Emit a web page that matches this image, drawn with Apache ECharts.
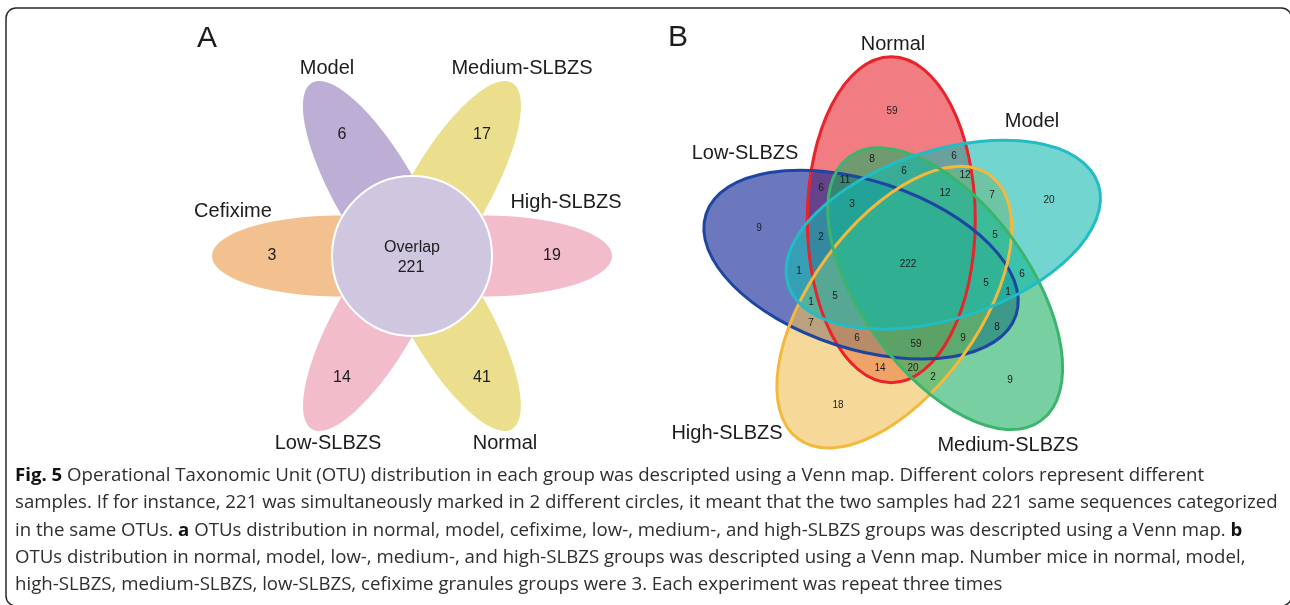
<!DOCTYPE html>
<html>
<head>
<meta charset="utf-8">
<script src="https://cdn.jsdelivr.net/npm/echarts@6/dist/echarts.min.js"></script>
<style>
  html, body { margin: 0; padding: 0; background: #ffffff; }
  #main { width: 1290px; height: 605px; }
</style>
</head>
<body>
<div id="main"></div>
<script>
// ---------- Panel A: flower diagram of six groups ----------
const petalGroupsA = ['Model', 'Medium-SLBZS', 'High-SLBZS', 'Normal', 'Low-SLBZS', 'Cefixime'];
const petalUniqueA = [6, 17, 19, 41, 14, 3];
const overlapLabelA = 'Overlap';
const overlapCountA = 221;

// ---------- Panel B: five-set Venn diagram ----------
const setsB = ['Normal', 'Low-SLBZS', 'High-SLBZS', 'Medium-SLBZS', 'Model'];
const regionCountsB = [59, 20, 9, 18, 9, 8, 6, 6, 12, 11, 6, 12, 7, 3, 2, 5,
                       222, 1, 6, 5, 1, 1, 5, 7, 6, 59, 9, 8, 14, 20, 2];

const panelLetters = ['A', 'B'];
const captionLines = [
  '{b|Fig. 5} Operational Taxonomic Unit (OTU) distribution in each group was descripted using a Venn map. Different colors represent different',
  'samples. If for instance, 221 was simultaneously marked in 2 different circles, it meant that the two samples had 221 same sequences categorized',
  'in the same OTUs. {b|a} OTUs distribution in normal, model, cefixime, low-, medium-, and high-SLBZS groups was descripted using a Venn map. {b|b}',
  'OTUs distribution in normal, model, low-, medium-, and high-SLBZS groups was descripted using a Venn map. Number mice in normal, model,',
  'high-SLBZS, medium-SLBZS, low-SLBZS, cefixime granules groups were 3. Each experiment was repeat three times'
];

// ---------- layout (plot units equal screen pixels, y grows downward) ----------
const flowerLayout = {
  cx: 412, cy: 256, coreR: 80,
  petalOffset: 72, petalMajor: 128, petalMinor: 40.5, countDist: 140,
  angles: [120, 60, 0, -60, 240, 180],
  fills: ['#bcaed4', '#ebdf8e', '#f2bccb', '#ebdf8e', '#f2bccb', '#f3c08f'],
  namePos: [[327, 68], [522, 68], [566, 202], [505, 443], [328, 443], [233, 211]],
  overlapPos: [[412, 248], [411, 268]]
};

const vennLayout = {
  cx: 907, cy: 263, offset: 46, major: 163, minor: 84,
  centerAngles: [110, 182, 254, 326, 38],
  tilt: -20,
  fills: ['rgba(232,37,47,0.6)', 'rgba(8,30,145,0.6)', 'rgba(240,190,83,0.6)',
          'rgba(30,175,100,0.6)', 'rgba(20,185,175,0.6)'],
  strokes: ['#e8232b', '#1f45a3', '#f4b93c', '#3bb56b', '#22bcc4'],
  namePos: [[893, 44], [745, 153], [727, 433], [1008, 445], [1032, 121]],
  countPos: [[892, 111], [1049, 200], [759, 228], [838, 405], [1010, 380],
             [872, 159], [954, 156], [904, 171], [965, 175], [845, 180],
             [821, 188], [945, 193], [992, 195], [852, 204], [821, 237],
             [995, 235], [908, 264], [799, 271], [1022, 274], [986, 283],
             [1008, 292], [811, 302], [835, 296], [811, 323], [857, 338],
             [916, 344], [963, 338], [997, 327], [880, 368], [913, 368],
             [933, 377]]
};

const letterPos = [[207, 39], [678, 38]];

const LABEL_FONT = '"Liberation Sans", Arial, sans-serif';
const CAPTION_FONT = '"Open Sans", sans-serif';
const INK = '#1c1c1c';

// ---------- build geometry ----------
const rad = d => d * Math.PI / 180;

// petals: [centerX, centerY, rx, ry, rotationDeg]
const petalData = flowerLayout.angles.map(a => [
  flowerLayout.cx + flowerLayout.petalOffset * Math.cos(rad(a)),
  flowerLayout.cy - flowerLayout.petalOffset * Math.sin(rad(a)),
  flowerLayout.petalMajor, flowerLayout.petalMinor, a
]);
const coreData = [[flowerLayout.cx, flowerLayout.cy, flowerLayout.coreR, flowerLayout.coreR, 0]];

const vennData = vennLayout.centerAngles.map(a => [
  vennLayout.cx + vennLayout.offset * Math.cos(rad(a)),
  vennLayout.cy - vennLayout.offset * Math.sin(rad(a)),
  vennLayout.major, vennLayout.minor, a + vennLayout.tilt
]);

// text items: position + text + font size
const textItems = [];
function addText(pos, text, size) {
  textItems.push({ value: [pos[0], pos[1]], text: String(text), size: size });
}
petalGroupsA.forEach((g, i) => addText(flowerLayout.namePos[i], g, 20));
petalUniqueA.forEach((v, i) => {
  const a = rad(flowerLayout.angles[i]);
  addText([flowerLayout.cx + flowerLayout.countDist * Math.cos(a),
           flowerLayout.cy - flowerLayout.countDist * Math.sin(a)], v, 16);
});
addText(flowerLayout.overlapPos[0], overlapLabelA, 16);
addText(flowerLayout.overlapPos[1], overlapCountA, 16);
setsB.forEach((g, i) => addText(vennLayout.namePos[i], g, 20));
regionCountsB.forEach((v, i) => addText(vennLayout.countPos[i], v, 10));
panelLetters.forEach((l, i) => addText(letterPos[i], l, 30));

// ---------- renderers ----------
function ellipseRenderer(styleFn) {
  return function (params, api) {
    const c = api.coord([api.value(0), api.value(1)]);
    const s = api.size([api.value(2), api.value(3)]);
    return {
      type: 'ellipse',
      x: c[0], y: c[1],
      rotation: rad(api.value(4)),
      shape: { cx: 0, cy: 0, rx: Math.abs(s[0]), ry: Math.abs(s[1]) },
      style: styleFn(params.dataIndex)
    };
  };
}

function textRenderer(params, api) {
  const p = api.coord([api.value(0), api.value(1)]);
  const t = textItems[params.dataIndex];
  return {
    type: 'text',
    x: p[0], y: p[1],
    style: {
      text: t.text,
      fill: INK,
      fontSize: t.size,
      fontFamily: LABEL_FONT,
      align: 'center',
      verticalAlign: 'middle'
    }
  };
}

const chart = echarts.init(document.getElementById('main'), null, { renderer: 'canvas' });

const captionGraphics = captionLines.map((line, i) => ({
  type: 'text',
  x: 15,
  y: 476 + i * 27.2,
  scaleX: 1.035,
  silent: true,
  style: {
    text: line,
    fill: '#2e2e2e',
    fontSize: 18,
    fontFamily: CAPTION_FONT,
    verticalAlign: 'middle',
    rich: {
      b: { fontWeight: 'bold', fontSize: 18, fontFamily: CAPTION_FONT, fill: '#111111' }
    }
  }
}));

chart.setOption({
  animation: false,
  backgroundColor: '#ffffff',
  grid: { left: 0, right: 0, top: 0, bottom: 0 },
  xAxis: { type: 'value', min: 0, max: 1290, show: false },
  yAxis: { type: 'value', min: 0, max: 605, inverse: true, show: false },
  graphic: [
    {
      type: 'rect',
      silent: true,
      shape: { x: 6, y: 8, width: 1285.5, height: 598, r: 10 },
      style: { fill: 'none', stroke: '#2a2a2a', lineWidth: 1.5 }
    }
  ].concat(captionGraphics),
  series: [
    {
      type: 'custom', name: 'petals', z: 2,
      renderItem: ellipseRenderer(i => ({ fill: flowerLayout.fills[i] })),
      data: petalData
    },
    {
      type: 'custom', name: 'overlap', z: 3,
      renderItem: ellipseRenderer(() => ({ fill: '#cfc6e0', stroke: '#ffffff', lineWidth: 2 })),
      data: coreData
    },
    {
      type: 'custom', name: 'venn-fill', z: 2,
      renderItem: ellipseRenderer(i => ({ fill: vennLayout.fills[i] })),
      data: vennData
    },
    {
      type: 'custom', name: 'venn-edge', z: 3,
      renderItem: ellipseRenderer(i => ({ fill: 'none', stroke: vennLayout.strokes[i], lineWidth: 3 })),
      data: vennData
    },
    {
      type: 'custom', name: 'labels', z: 5,
      renderItem: textRenderer,
      data: textItems.map(t => t.value)
    }
  ]
});
</script>
</body>
</html>
